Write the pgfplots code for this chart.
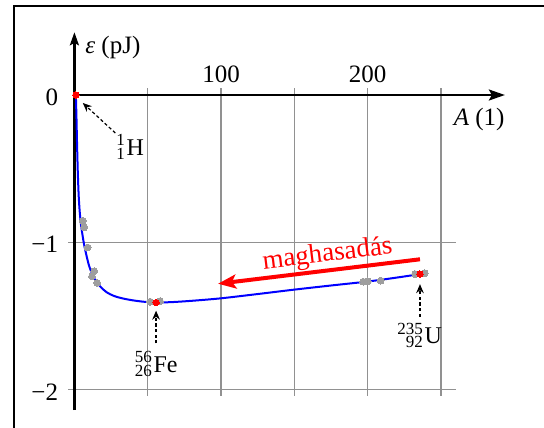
\documentclass[border=0pt]{standalone}
\usepackage{fontspec}
\setmainfont{Liberation Serif}
\usepackage{pgfplots}
\pgfplotsset{compat=1.18}
\usetikzlibrary{arrows.meta}
\definecolor{ptgray}{RGB}{158,158,158}
\definecolor{gridgray}{RGB}{145,145,145}
\newcommand{\iso}[3]{%
  \mbox{%
    \fontsize{8.5}{10}\selectfont
    \setbox0=\hbox{#1}\setbox2=\hbox{#2}%
    \ifdim\wd0>\wd2 \dimen0=\wd0 \else \dimen0=\wd2 \fi
    \hbox to \dimen0{\hss\llap{\raise4.6pt\box0}\llap{\lower2.3pt\box2}}%
    \fontsize{12}{14}\selectfont\kern0.9pt #3}}
\begin{document}
\begin{tikzpicture}
\begin{axis}[
  set layers,
  x=0.733pt, y=73.6pt,
  xmin=-1, xmax=293.6, ymin=-2.14, ymax=0.426,
  clip=false,
  axis lines=middle,
  axis line style={line width=1.1pt, black},
  every inner x axis line/.append style={-{Stealth[length=8pt,width=5.5pt,inset=1.5pt]}},
  every inner y axis line/.append style={-{Stealth[length=6.5pt,width=4.5pt,inset=1.2pt]}},
  xtick={100,200}, xticklabels={100,200},
  ytick={-2,-1,0}, yticklabels={−2,−1,0},
  major tick length=0pt,
  hide obscured x ticks=false, hide obscured y ticks=false,
  tick label style={font=\fontsize{12.5}{15}\selectfont},
  xticklabel style={anchor=base, inner sep=0pt, yshift=6.2pt},
  yticklabel style={anchor=east, inner sep=0pt, xshift=-8pt, yshift=-1.2pt},
]
\begin{pgfonlayer}{axis grid}
  \draw[gridgray, line width=0.6pt]
    (axis cs:50,0.045) -- (axis cs:50,-2.045)
    (axis cs:100,0.045) -- (axis cs:100,-2.045)
    (axis cs:150,0.045) -- (axis cs:150,-2.045)
    (axis cs:200,0.045) -- (axis cs:200,-2.045)
    (axis cs:250,0.045) -- (axis cs:250,-2.045)
    (axis cs:-4.3,-1) -- (axis cs:260.5,-1)
    (axis cs:-4.3,-2) -- (axis cs:260.5,-2);
\end{pgfonlayer}

\addplot[blue, line width=1pt, smooth, tension=0.5, no markers] coordinates {
  (1,0) (1.4,-0.15) (1.8,-0.33) (2.3,-0.52) (2.9,-0.68) (3.6,-0.79)
  (4.5,-0.88) (5.5,-0.95) (6.5,-1.01) (8,-1.08) (10,-1.16) (12.5,-1.225)
  (15,-1.27) (18,-1.305) (22,-1.34) (27,-1.365) (33,-1.382) (40,-1.395)
  (48,-1.405) (56,-1.409) (66,-1.407) (80,-1.398) (100,-1.381)
  (125,-1.352) (150,-1.322) (175,-1.294) (200,-1.267) (220,-1.240)
  (236,-1.216)
};
\addplot[ptgray, only marks, mark=*, mark size=1.7pt, mark options={draw=ptgray, fill=ptgray, line width=0pt}] coordinates {
  (5.8,-0.855) (6.7,-0.899) (9.1,-1.036) (13.5,-1.197) (12,-1.232) (15.5,-1.276)
  (51.6,-1.404) (58.4,-1.400)
  (197,-1.268) (200,-1.266) (208.9,-1.261)
  (232.3,-1.216) (239,-1.211)
};
\addplot[red, only marks, mark=*, mark size=1.6pt, mark options={draw=red, fill=red, line width=0pt}] coordinates {
  (1,0) (55.7,-1.410) (235.7,-1.216)
};

% fission arrow and label
\draw[red, line width=2pt, -{Stealth[length=9pt,width=7pt,inset=2pt]}]
  (axis cs:235.7,-1.116) -- (axis cs:98,-1.282);
\node[red, anchor=base, inner sep=0pt, rotate=6.9, font=\fontsize{13.5}{16}\selectfont]
  at (axis cs:173.2,-1.129) {maghasadás};

% dashed pointers
\draw[black, line width=0.6pt, dash pattern=on 1.6pt off 1.2pt, -{Stealth[length=4.5pt,width=3.8pt]}]
  (axis cs:27.9,-0.258) -- (axis cs:5.7,-0.054);
\draw[black, line width=0.6pt, dash pattern=on 1.6pt off 1.2pt, -{Stealth[length=4.5pt,width=3.8pt]}]
  (axis cs:55.7,-1.687) -- (axis cs:55.7,-1.465);
\draw[black, line width=0.6pt, dash pattern=on 1.6pt off 1.2pt, -{Stealth[length=4.5pt,width=3.8pt]}]
  (axis cs:235.7,-1.506) -- (axis cs:235.7,-1.285);

\node[anchor=base west, inner sep=0pt] at (axis cs:28.4,-0.408) {\iso{1}{1}{H}};
\node[anchor=base, inner sep=0pt] at (axis cs:55.8,-1.882) {\iso{56}{26}{Fe}};
\node[anchor=base, inner sep=0pt] at (axis cs:235.5,-1.687) {\iso{235}{92}{U}};

% axis labels
\node[anchor=base west, inner sep=0pt, font=\fontsize{12.5}{15}\selectfont]
  at (axis cs:7.2,0.285) {\textit{ε} (pJ)};
\node[anchor=base west, inner sep=0pt, font=\fontsize{12.5}{15}\selectfont]
  at (axis cs:258.5,-0.204) {\textit{A} (1)};

% frame
\draw[black, line width=1pt] (axis cs:-41.2,0.608) rectangle (axis cs:400,-3);

\coordinate (bbsw) at (axis cs:-50.75,-2.2554);
\coordinate (bbne) at (axis cs:320.3,0.6454);
\end{axis}
\pgfresetboundingbox
\useasboundingbox (bbsw) rectangle (bbne);
\end{tikzpicture}
\end{document}
